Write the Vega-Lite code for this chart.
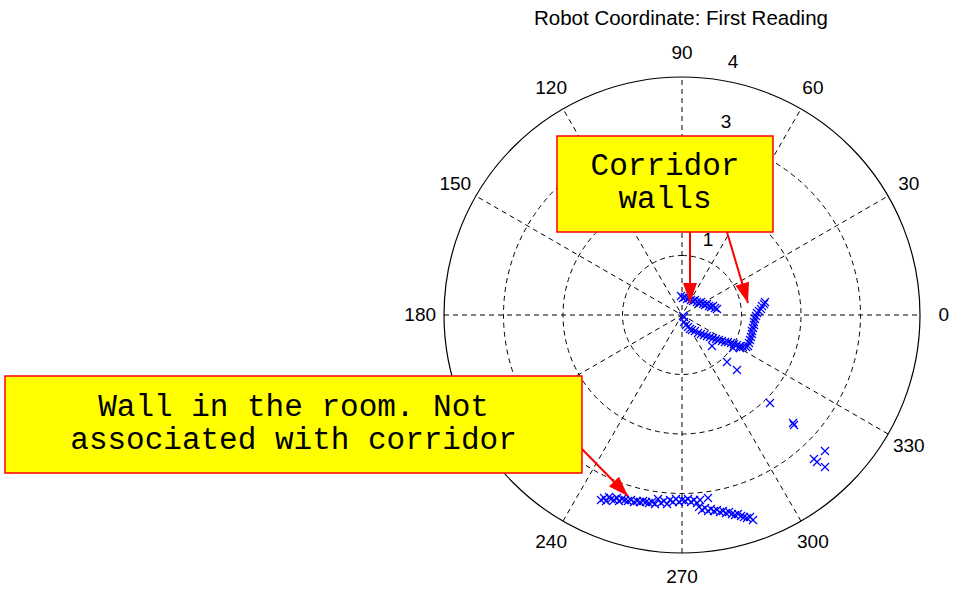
{
  "$schema": "https://vega.github.io/schema/vega-lite/v6.json",
  "width": 476,
  "height": 476,
  "autosize": "none",
  "padding": {"left": 444, "top": 77, "right": 33, "bottom": 39},
  "background": "white",
  "config": {"view": {"stroke": null}},
  "datasets": {
    "scan": [
      {"x": -1.361, "y": -3.109}, {"x": -1.311, "y": -3.076}, {"x": -1.277, "y": -3.126}, {"x": -1.227, "y": -3.059},
      {"x": -1.193, "y": -3.092}, {"x": -1.143, "y": -3.109}, {"x": -1.092, "y": -3.076}, {"x": -1.059, "y": -3.126},
      {"x": -1.008, "y": -3.092}, {"x": -0.958, "y": -3.109}, {"x": -0.908, "y": -3.126}, {"x": -0.857, "y": -3.109},
      {"x": -0.807, "y": -3.143}, {"x": -0.756, "y": -3.126}, {"x": -0.706, "y": -3.143}, {"x": -0.655, "y": -3.126},
      {"x": -0.605, "y": -3.143}, {"x": -0.555, "y": -3.160}, {"x": -0.504, "y": -3.143}, {"x": -0.454, "y": -3.176},
      {"x": -0.403, "y": -3.092}, {"x": -0.353, "y": -3.160}, {"x": -0.303, "y": -3.126}, {"x": -0.252, "y": -3.176},
      {"x": -0.202, "y": -3.109}, {"x": -0.151, "y": -3.143}, {"x": -0.101, "y": -3.092}, {"x": -0.050, "y": -3.143},
      {"x": 0.000, "y": -3.109}, {"x": 0.050, "y": -3.126}, {"x": 0.101, "y": -3.092}, {"x": 0.151, "y": -3.143},
      {"x": 0.202, "y": -3.109}, {"x": 0.252, "y": -3.160}, {"x": 0.303, "y": -3.109}, {"x": 0.437, "y": -3.076},
      {"x": 0.286, "y": -3.227}, {"x": 0.336, "y": -3.277}, {"x": 0.387, "y": -3.244}, {"x": 0.437, "y": -3.294},
      {"x": 0.487, "y": -3.261}, {"x": 0.538, "y": -3.294}, {"x": 0.588, "y": -3.277}, {"x": 0.639, "y": -3.311},
      {"x": 0.689, "y": -3.294}, {"x": 0.739, "y": -3.328}, {"x": 0.790, "y": -3.311}, {"x": 0.840, "y": -3.345},
      {"x": 0.891, "y": -3.361}, {"x": 0.941, "y": -3.345}, {"x": 0.992, "y": -3.378}, {"x": 1.042, "y": -3.395},
      {"x": 1.092, "y": -3.412}, {"x": 1.143, "y": -3.395}, {"x": 1.193, "y": -3.445},
      {"x": -0.017, "y": 0.319}, {"x": 0.017, "y": 0.286}, {"x": 0.050, "y": 0.303}, {"x": 0.084, "y": 0.269},
      {"x": 0.118, "y": 0.286}, {"x": 0.151, "y": 0.252}, {"x": 0.185, "y": 0.235}, {"x": 0.218, "y": 0.252},
      {"x": 0.252, "y": 0.218}, {"x": 0.286, "y": 0.202}, {"x": 0.319, "y": 0.218}, {"x": 0.353, "y": 0.185},
      {"x": 0.387, "y": 0.168}, {"x": 0.420, "y": 0.185}, {"x": 0.454, "y": 0.151}, {"x": 0.487, "y": 0.134},
      {"x": 0.521, "y": 0.151}, {"x": 0.555, "y": 0.118}, {"x": 0.588, "y": 0.101},
      {"x": 0.017, "y": -0.017}, {"x": 0.034, "y": -0.034},
      {"x": 0.034, "y": -0.118}, {"x": 0.067, "y": -0.168}, {"x": 0.101, "y": -0.202}, {"x": 0.134, "y": -0.235},
      {"x": 0.168, "y": -0.252}, {"x": 0.218, "y": -0.269}, {"x": 0.269, "y": -0.303}, {"x": 0.319, "y": -0.319},
      {"x": 0.370, "y": -0.336}, {"x": 0.420, "y": -0.353}, {"x": 0.471, "y": -0.370}, {"x": 0.521, "y": -0.387},
      {"x": 0.571, "y": -0.403}, {"x": 0.622, "y": -0.420}, {"x": 0.672, "y": -0.437}, {"x": 0.723, "y": -0.454},
      {"x": 0.773, "y": -0.454}, {"x": 0.824, "y": -0.471}, {"x": 0.874, "y": -0.487}, {"x": 0.924, "y": -0.504},
      {"x": 0.975, "y": -0.521}, {"x": 1.025, "y": -0.538}, {"x": 1.076, "y": -0.538}, {"x": 0.504, "y": -0.521},
      {"x": 0.857, "y": -0.555}, {"x": 0.975, "y": -0.555},
      {"x": 1.109, "y": -0.521}, {"x": 1.126, "y": -0.471}, {"x": 1.143, "y": -0.420}, {"x": 1.160, "y": -0.370},
      {"x": 1.176, "y": -0.319}, {"x": 1.176, "y": -0.269}, {"x": 1.193, "y": -0.218}, {"x": 1.210, "y": -0.168},
      {"x": 1.210, "y": -0.118}, {"x": 1.227, "y": -0.067}, {"x": 1.244, "y": -0.017}, {"x": 1.261, "y": 0.034},
      {"x": 1.294, "y": 0.067}, {"x": 1.328, "y": 0.101}, {"x": 1.345, "y": 0.151}, {"x": 1.378, "y": 0.185},
      {"x": 1.395, "y": 0.218},
      {"x": 0.756, "y": -0.790}, {"x": 0.924, "y": -0.924}, {"x": 1.479, "y": -1.479}, {"x": 1.866, "y": -1.815},
      {"x": 1.882, "y": -1.849}, {"x": 2.403, "y": -2.286}, {"x": 2.218, "y": -2.420}, {"x": 2.269, "y": -2.471},
      {"x": 2.403, "y": -2.555}
    ],
    "spokes": [
      {"x": -4, "y": 0, "x2": 4, "y2": 0},
      {"x": -3.4641, "y": -2, "x2": 3.4641, "y2": 2},
      {"x": -2, "y": -3.4641, "x2": 2, "y2": 3.4641},
      {"x": 0, "y": -4, "x2": 0, "y2": 4},
      {"x": 2, "y": -3.4641, "x2": -2, "y2": 3.4641},
      {"x": 3.4641, "y": -2, "x2": -3.4641, "y2": 2}
    ],
    "angleLabels": [
      {"label": "0", "x": 4.4, "y": 0},
      {"label": "30", "x": 3.8105, "y": 2.2},
      {"label": "60", "x": 2.2, "y": 3.8105},
      {"label": "90", "x": 0, "y": 4.4},
      {"label": "120", "x": -2.2, "y": 3.8105},
      {"label": "150", "x": -3.8105, "y": 2.2},
      {"label": "180", "x": -4.4, "y": 0},
      {"label": "210", "x": -3.8105, "y": -2.2},
      {"label": "240", "x": -2.2, "y": -3.8105},
      {"label": "270", "x": 0, "y": -4.4},
      {"label": "300", "x": 2.2, "y": -3.8105},
      {"label": "330", "x": 3.8105, "y": -2.2}
    ],
    "ringLabels": [
      {"label": "1", "x": 0.437, "y": 1.261},
      {"label": "2", "x": 0.578, "y": 2.262},
      {"label": "3", "x": 0.739, "y": 3.244},
      {"label": "4", "x": 0.857, "y": 4.252}
    ],
    "arrows": [
      {"x": 0.134, "y": 1.395, "x2": 0.134, "y2": 0.202},
      {"x": 0.756, "y": 1.395, "x2": 1.109, "y2": 0.202},
      {"x": -1.681, "y": -2.252, "x2": -0.908, "y2": -3.042}
    ],
    "boxes": [
      {"x": -2.101, "x2": 1.529, "y": 3.008, "y2": 1.395},
      {"x": -11.378, "x2": -1.681, "y": -1.025, "y2": -2.655}
    ],
    "boxText": [
      {"cx": -0.286, "cy": 2.504, "text": "Corridor"},
      {"cx": -0.286, "cy": 1.950, "text": "walls"},
      {"cx": -6.529, "cy": -1.546, "text": "Wall in the room. Not"},
      {"cx": -6.529, "cy": -2.101, "text": "associated with corridor"}
    ]
  },
  "layer": [
    {
      "data": {"name": "spokes"},
      "mark": {"type": "rule", "stroke": "black", "strokeWidth": 1, "strokeDash": [5, 4]},
      "encoding": {
        "x": {"field": "x", "type": "quantitative", "scale": {"domain": [-4, 4], "nice": false, "zero": false}, "axis": null},
        "y": {"field": "y", "type": "quantitative", "scale": {"domain": [-4, 4], "nice": false, "zero": false}, "axis": null},
        "x2": {"field": "x2"},
        "y2": {"field": "y2"}
      }
    },
    {
      "data": {"values": [{"r": 1}, {"r": 2}, {"r": 3}]},
      "mark": {"type": "arc", "theta": 0, "theta2": 6.2832, "filled": false, "fill": null, "stroke": "black", "strokeWidth": 1, "strokeDash": [5, 4]},
      "encoding": {
        "radius": {"field": "r", "type": "quantitative", "stack": null, "scale": {"type": "linear", "domain": [0, 4], "range": [0, 238], "zero": true}}
      }
    },
    {
      "data": {"values": [{"r": 4}]},
      "mark": {"type": "arc", "theta": 0, "theta2": 6.2832, "filled": false, "fill": null, "stroke": "black", "strokeWidth": 1.2},
      "encoding": {
        "radius": {"field": "r", "type": "quantitative", "stack": null, "scale": {"type": "linear", "domain": [0, 4], "range": [0, 238], "zero": true}}
      }
    },
    {
      "data": {"name": "angleLabels"},
      "mark": {"type": "text", "font": "Liberation Sans", "fontSize": 19, "align": "center", "baseline": "middle", "color": "black"},
      "encoding": {
        "x": {"field": "x", "type": "quantitative", "scale": {"domain": [-4, 4], "nice": false, "zero": false}, "axis": null},
        "y": {"field": "y", "type": "quantitative", "scale": {"domain": [-4, 4], "nice": false, "zero": false}, "axis": null},
        "text": {"field": "label"}
      }
    },
    {
      "data": {"name": "ringLabels"},
      "mark": {"type": "text", "font": "Liberation Sans", "fontSize": 19, "align": "center", "baseline": "middle", "color": "black"},
      "encoding": {
        "x": {"field": "x", "type": "quantitative", "scale": {"domain": [-4, 4], "nice": false, "zero": false}, "axis": null},
        "y": {"field": "y", "type": "quantitative", "scale": {"domain": [-4, 4], "nice": false, "zero": false}, "axis": null},
        "text": {"field": "label"}
      }
    },
    {
      "data": {"values": [{"x": -0.017, "y": 4.874, "t": "Robot Coordinate: First Reading"}]},
      "mark": {"type": "text", "font": "Liberation Sans", "fontSize": 20.5, "align": "center", "baseline": "alphabetic", "color": "black"},
      "encoding": {
        "x": {"field": "x", "type": "quantitative", "scale": {"domain": [-4, 4], "nice": false, "zero": false}, "axis": null},
        "y": {"field": "y", "type": "quantitative", "scale": {"domain": [-4, 4], "nice": false, "zero": false}, "axis": null},
        "text": {"field": "t"}
      }
    },
    {
      "data": {"name": "scan"},
      "mark": {"type": "point", "shape": "M-1,-1L1,1M-1,1L1,-1", "size": 64, "filled": false, "stroke": "#0000FF", "strokeWidth": 1.2, "opacity": 1},
      "encoding": {
        "x": {"field": "x", "type": "quantitative", "scale": {"domain": [-4, 4], "nice": false, "zero": false}, "axis": null},
        "y": {"field": "y", "type": "quantitative", "scale": {"domain": [-4, 4], "nice": false, "zero": false}, "axis": null}
      }
    },
    {
      "data": {"name": "arrows"},
      "mark": {"type": "rule", "stroke": "#FF0000", "strokeWidth": 2},
      "encoding": {
        "x": {"field": "x", "type": "quantitative", "scale": {"domain": [-4, 4], "nice": false, "zero": false}, "axis": null},
        "y": {"field": "y", "type": "quantitative", "scale": {"domain": [-4, 4], "nice": false, "zero": false}, "axis": null},
        "x2": {"field": "x2"},
        "y2": {"field": "y2"}
      }
    },
    {
      "data": {"name": "boxes"},
      "mark": {"type": "rect", "fill": "#FFFF00", "stroke": "#FF0000", "strokeWidth": 1.5},
      "encoding": {
        "x": {"field": "x", "type": "quantitative", "scale": {"domain": [-4, 4], "nice": false, "zero": false}, "axis": null},
        "y": {"field": "y", "type": "quantitative", "scale": {"domain": [-4, 4], "nice": false, "zero": false}, "axis": null},
        "x2": {"field": "x2"},
        "y2": {"field": "y2"}
      }
    },
    {
      "data": {"name": "boxText"},
      "mark": {"type": "text", "font": "Liberation Mono", "fontSize": 31, "align": "center", "baseline": "middle", "color": "black"},
      "encoding": {
        "x": {"field": "cx", "type": "quantitative", "scale": {"domain": [-4, 4], "nice": false, "zero": false}, "axis": null},
        "y": {"field": "cy", "type": "quantitative", "scale": {"domain": [-4, 4], "nice": false, "zero": false}, "axis": null},
        "text": {"field": "text"}
      }
    },
    {
      "data": {"values": [{"x": 0.134, "y": 0.202}]},
      "mark": {"type": "point", "shape": "M0,0L-0.35,-1L0.35,-1Z", "size": 1600, "filled": true, "fill": "#FF0000", "strokeWidth": 0, "opacity": 1, "angle": 0},
      "encoding": {
        "x": {"field": "x", "type": "quantitative", "scale": {"domain": [-4, 4], "nice": false, "zero": false}, "axis": null},
        "y": {"field": "y", "type": "quantitative", "scale": {"domain": [-4, 4], "nice": false, "zero": false}, "axis": null}
      }
    },
    {
      "data": {"values": [{"x": 1.109, "y": 0.202}]},
      "mark": {"type": "point", "shape": "M0,0L-0.35,-1L0.35,-1Z", "size": 1600, "filled": true, "fill": "#FF0000", "strokeWidth": 0, "opacity": 1, "angle": -16.5},
      "encoding": {
        "x": {"field": "x", "type": "quantitative", "scale": {"domain": [-4, 4], "nice": false, "zero": false}, "axis": null},
        "y": {"field": "y", "type": "quantitative", "scale": {"domain": [-4, 4], "nice": false, "zero": false}, "axis": null}
      }
    },
    {
      "data": {"values": [{"x": -0.908, "y": -3.042}]},
      "mark": {"type": "point", "shape": "M0,0L-0.35,-1L0.35,-1Z", "size": 1600, "filled": true, "fill": "#FF0000", "strokeWidth": 0, "opacity": 1, "angle": -44.4},
      "encoding": {
        "x": {"field": "x", "type": "quantitative", "scale": {"domain": [-4, 4], "nice": false, "zero": false}, "axis": null},
        "y": {"field": "y", "type": "quantitative", "scale": {"domain": [-4, 4], "nice": false, "zero": false}, "axis": null}
      }
    }
  ]
}
